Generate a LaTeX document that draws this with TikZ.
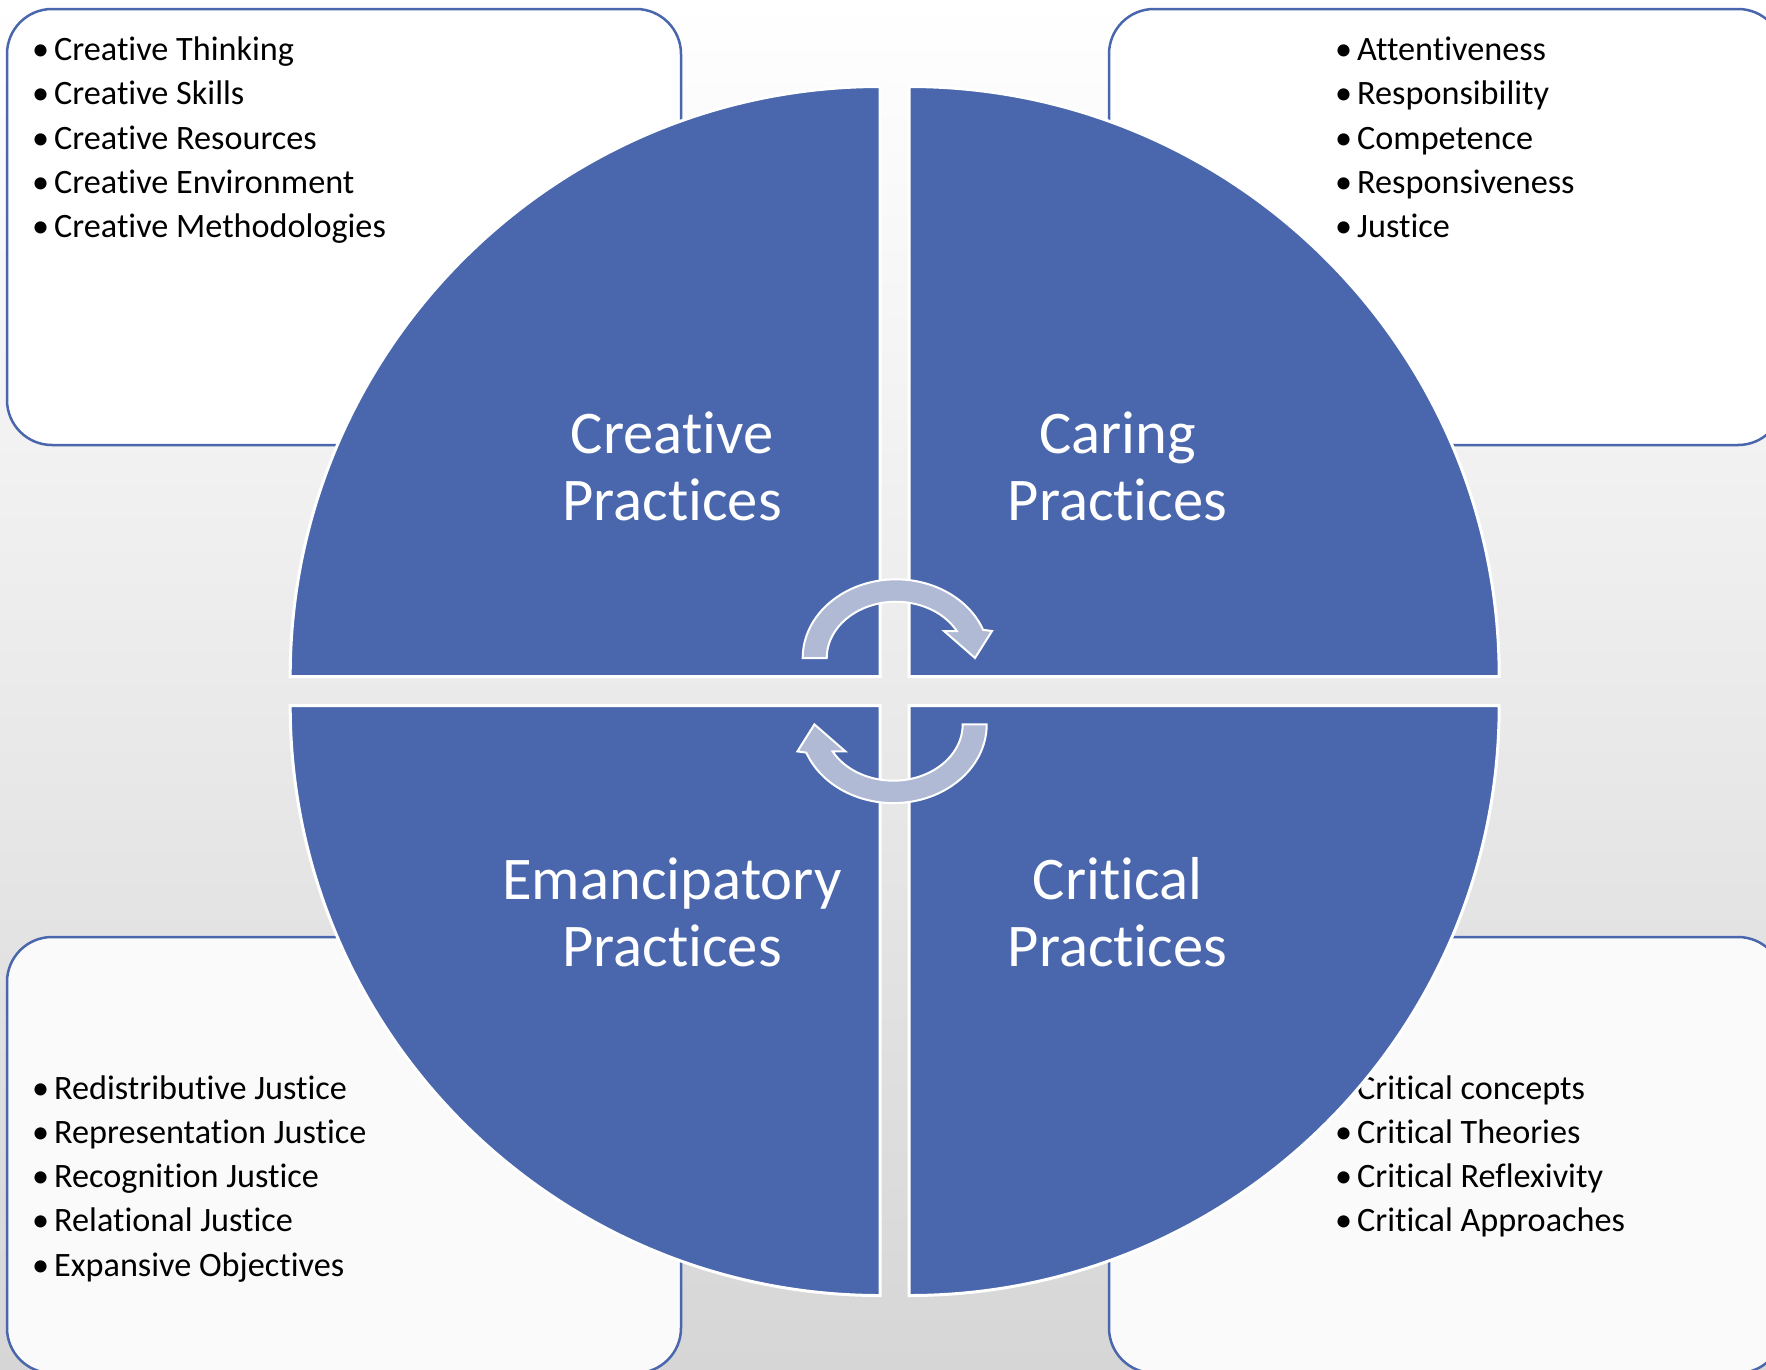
\documentclass[tikz,border=0pt]{standalone}
\usepackage{fontspec}
\setmainfont{Carlito}[Ligatures={NoCommon}]
\definecolor{qblue}{RGB}{74,103,173}
\definecolor{arrowfill}{RGB}{177,186,212}
\definecolor{bgmid}{RGB}{244,244,244}
\definecolor{bgbot}{RGB}{214,214,214}
\definecolor{boxlow}{RGB}{250,250,250}
\begin{document}
\begin{tikzpicture}[x=1pt,y=1pt,
  quad/.style={fill=qblue, draw=white, line width=3pt},
  listbox/.style={draw=qblue, line width=2.5pt, rounded corners=45pt},
  item/.style={anchor=base west, inner sep=0pt, font=\fontsize{34.2}{40}\selectfont, text=black},
  biglabel/.style={anchor=base, inner sep=0pt, font=\fontsize{60.6}{67}\selectfont, text=white},
  cyc/.style={fill=arrowfill, draw=white, line width=2pt}]
\useasboundingbox (0,0) rectangle (1766,-1369);
\shade[top color=white, middle color=bgmid, bottom color=bgbot] (0,0) rectangle (1766,-1369);

% list boxes
\draw[listbox, fill=white] (7,-9) rectangle (681,-445);
\draw[listbox, fill=white] (1109,-9) rectangle (1783,-445);
\draw[listbox, fill=boxlow] (7,-937) rectangle (681,-1373);
\draw[listbox, fill=boxlow] (1109,-937) rectangle (1783,-1373);

% lists
\foreach \t [count=\i from 0] in {Creative Thinking, Creative Skills, Creative Resources, Creative Environment, Creative Methodologies}
  \node[item] (tl\i) at (32,{-60.5-44.3*\i}) {\makebox[22pt][l]{•}\t};
\foreach \t [count=\i from 0] in {Attentiveness, Responsibility, Competence, Responsiveness, Justice}
  \node[item] (tr\i) at (1335,{-60.5-44.3*\i}) {\makebox[22pt][l]{•}\t};
\foreach \t [count=\i from 0] in {Redistributive Justice, Representation Justice, Recognition Justice, Relational Justice, Expansive Objectives}
  \node[item] (bl\i) at (32,{-1099-44.3*\i}) {\makebox[22pt][l]{•}\t};
\foreach \t [count=\i from 0] in {Critical concepts, Critical Theories, Critical Reflexivity, Critical Approaches}
  \node[item] (br\i) at (1335,{-1099-44.3*\i}) {\makebox[22pt][l]{•}\t};

% quadrants
\path[quad] (880.2,-676.5) -- ++(-590,0) arc[start angle=180, end angle=90, radius=590] -- cycle;
\path[quad] (909.2,-676.5) -- ++(0,590) arc[start angle=90, end angle=0, radius=590] -- cycle;
\path[quad] (880.2,-705.5) -- ++(-590,0) arc[start angle=180, end angle=270, radius=590] -- cycle;
\path[quad] (909.2,-705.5) -- ++(590,0) arc[start angle=0, end angle=-90, radius=590] -- cycle;

% labels
\node[biglabel] (cr1) at (672,-453) {Creative};
\node[biglabel] (cr2) at (672,-520.5) {Practices};
\node[biglabel] (ca1) at (1117.5,-453) {Caring};
\node[biglabel] (ca2) at (1117.5,-520.5) {Practices};
\node[biglabel] (em1) at (672,-899) {Emancipatory};
\node[biglabel] (em2) at (672,-966.5) {Practices};
\node[biglabel] (ci1) at (1117.5,-899) {Critical};
\node[biglabel] (ci2) at (1117.5,-966.5) {Practices};

% cycle arrows
\path[cyc] (802.7,-658) arc[start angle=180, end angle=21, x radius=93.3, y radius=78.7]
  -- (992,-631) -- (975,-658) -- (944,-631) -- (956.8,-631)
  arc[start angle=28.7, end angle=180, x radius=69.3, y radius=56.3] -- cycle;
\path[cyc, rotate around={180:(894.7,-691.2)}] (802.7,-658) arc[start angle=180, end angle=21, x radius=93.3, y radius=78.7]
  -- (992,-631) -- (975,-658) -- (944,-631) -- (956.8,-631)
  arc[start angle=28.7, end angle=180, x radius=69.3, y radius=56.3] -- cycle;
\end{tikzpicture}
\end{document}
